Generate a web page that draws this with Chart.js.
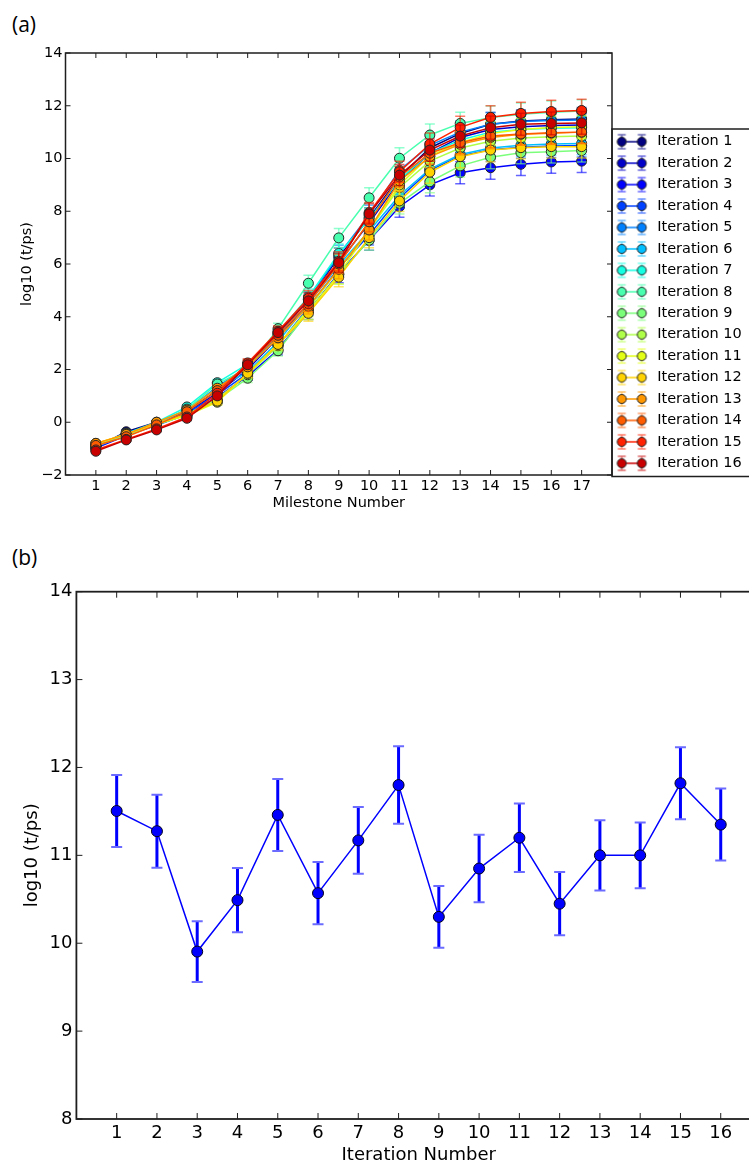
<!DOCTYPE html>
<html><head><meta charset="utf-8">
<script src="https://cdn.jsdelivr.net/npm/chart.js@4/dist/chart.umd.min.js"></script>
<style>
html,body{margin:0;padding:0;background:#fff;width:749px;height:1167px;overflow:hidden;position:relative;}
#wa{position:absolute;left:0;top:0;width:760px;height:520px;}
#wb{position:absolute;left:0;top:530px;width:770px;height:637px;}
.lab{position:absolute;font-family:"Open Sans",sans-serif;font-size:21px;line-height:21px;color:#000;}
</style></head><body>
<div class="lab" style="left:12px;top:14px;">(a)</div>
<div class="lab" style="left:12px;top:547px;">(b)</div>
<div id="wa"><canvas id="ca" width="760" height="520"></canvas></div>
<div id="wb"><canvas id="cb" width="770" height="637"></canvas></div>
<script>
// ---------- DATA ----------
const milestones = [1,2,3,4,5,6,7,8,9,10,11,12,13,14,15,16,17];
const yTicksA = [-2,0,2,4,6,8,10,12,14];
const iter1  = [-0.95,-0.36, 0.00,0.42,1.20,2.10,3.35,4.65,6.25,7.75,9.30,10.40,10.95,11.30,11.42,11.47,11.50];
const iter2  = [-0.92,-0.42,-0.05,0.38,1.10,2.00,3.20,4.50,6.05,7.55,9.15,10.20,10.80,11.10,11.20,11.25,11.27];
const iter3  = [-0.98,-0.50,-0.12,0.30,0.95,1.75,2.75,4.20,5.65,6.90,8.17, 9.00, 9.46, 9.65, 9.78, 9.87, 9.90];
const iter4  = [-0.95,-0.48,-0.10,0.35,1.05,1.85,2.90,4.35,5.85,7.10,8.50, 9.55,10.10,10.33,10.43,10.47,10.49];
const iter5  = [-0.93,-0.45,-0.05,0.45,1.35,2.10,3.30,4.65,6.35,7.85,9.55,10.50,11.00,11.30,11.40,11.44,11.46];
const iter6  = [-0.90,-0.45,-0.05,0.50,1.30,1.90,3.05,4.50,5.95,7.25,8.60, 9.60,10.15,10.40,10.50,10.55,10.57];
const iter7  = [-0.88,-0.42, 0.00,0.58,1.50,2.20,3.40,4.75,6.40,7.70,9.20,10.20,10.70,11.00,11.10,11.15,11.17];
const iter8  = [-0.90,-0.47,-0.05,0.50,1.45,2.05,3.55,5.27,6.99,8.51,10.01,10.89,11.33,11.55,11.68,11.75,11.80];
const iter9  = [-0.90,-0.50,-0.10,0.28,0.85,1.67,2.71,4.20,5.60,6.90,8.30, 9.12, 9.72,10.05,10.22,10.26,10.30];
const iter10 = [-0.85,-0.45,-0.08,0.30,0.90,1.80,2.90,4.30,5.80,7.30,8.90, 9.90,10.40,10.65,10.78,10.82,10.85];
const iter11 = [-0.82,-0.44,-0.06,0.25,0.76,1.86,2.97,4.20,5.60,7.30,9.00,10.10,10.60,10.95,11.10,11.18,11.20];
const iter12 = [-0.80,-0.45,-0.05,0.30,0.80,1.86,2.95,4.13,5.50,7.00,8.39, 9.48,10.07,10.32,10.41,10.45,10.45];
const iter13 = [-0.80,-0.46, 0.00,0.46,1.29,2.10,3.20,4.40,5.80,7.29,9.15,10.07,10.54,10.80,10.92,10.96,11.00];
const iter14 = [-0.88,-0.55,-0.10,0.40,1.20,2.20,3.30,4.50,6.00,7.60,9.30,10.20,10.60,10.85,10.93,10.98,11.00];
const iter15 = [-1.05,-0.65,-0.25,0.20,1.10,2.25,3.45,4.70,6.10,7.95,9.50,10.55,11.18,11.56,11.71,11.78,11.82];
const iter16 = [-1.10,-0.67,-0.29,0.15,1.00,2.18,3.40,4.60,6.05,7.90,9.37,10.32,10.85,11.17,11.30,11.33,11.35];
const milestoneErr = [0.05,0.06,0.07,0.08,0.12,0.16,0.20,0.30,0.36,0.38,0.40,0.42,0.42,0.44,0.42,0.43,0.43];
const seriesA = [iter1,iter2,iter3,iter4,iter5,iter6,iter7,iter8,iter9,iter10,iter11,iter12,iter13,iter14,iter15,iter16];

const iterationNumbers = [1,2,3,4,5,6,7,8,9,10,11,12,13,14,15,16];
const finalLog = [11.505,11.275,9.905,10.49,11.46,10.57,11.17,11.80,10.30,10.85,11.20,10.45,11.00,11.00,11.82,11.35];
const finalErr = [0.41,0.415,0.345,0.365,0.41,0.355,0.38,0.44,0.35,0.385,0.39,0.36,0.40,0.375,0.41,0.41];
const yTicksB = [8,9,10,11,12,13,14];

// ---------- STYLE HELPERS ----------
function interp(xs, ys, t){
  for(let k=0;k<xs.length-1;k++){
    if(t<=xs[k+1]){ const f=(t-xs[k])/(xs[k+1]-xs[k]); return ys[k]+f*(ys[k+1]-ys[k]); }
  }
  return ys[ys.length-1];
}
function jet(t){
  const r=interp([0,0.35,0.66,0.89,1],[0,0,1,1,0.5],t);
  const g=interp([0,0.125,0.375,0.64,0.91,1],[0,0,1,1,0,0],t);
  const b=interp([0,0.11,0.34,0.65,1],[0.5,1,1,0,0],t);
  return [Math.round(r*255),Math.round(g*255),Math.round(b*255)];
}
function col(i,a){ const c=jet(i/16); return a===undefined?`rgb(${c[0]},${c[1]},${c[2]})`:`rgba(${c[0]},${c[1]},${c[2]},${a})`; }

function legendIcon(i){
  const c=document.createElement('canvas'); c.width=40; c.height=20;
  const g=c.getContext('2d');
  const xs=[7.3,27.3], cy=10;
  g.strokeStyle=col(i,0.6); g.lineWidth=1.5;
  xs.forEach(x=>{ g.beginPath(); g.moveTo(x,cy-7); g.lineTo(x,cy+7);
    g.moveTo(x-4,cy-7); g.lineTo(x+4,cy-7); g.moveTo(x-4,cy+7); g.lineTo(x+4,cy+7); g.stroke(); });
  g.strokeStyle=col(i); g.lineWidth=1.5;
  g.beginPath(); g.moveTo(xs[0],cy); g.lineTo(xs[1],cy); g.stroke();
  xs.forEach(x=>{ g.beginPath(); g.arc(x,cy,4.5,0,Math.PI*2); g.fillStyle=col(i); g.fill(); g.strokeStyle='#222'; g.lineWidth=1; g.stroke(); });
  return c;
}

// ---------- PLUGINS ----------
const errorBars = {id:'errorBars',
  beforeDatasetDraw(chart,args){
    const ds=chart.data.datasets[args.index]; if(!ds.errs) return;
    const ys=chart.scales.y, ctx=chart.ctx, ca=chart.chartArea;
    ctx.save();
    ctx.beginPath(); ctx.rect(ca.left,ca.top,ca.right-ca.left,ca.bottom-ca.top); ctx.clip();
    const pts=args.meta.data;
    ctx.strokeStyle=ds.errColor; ctx.lineWidth=ds.errWidth;
    pts.forEach((p,j)=>{ const v=ds.data[j].y, e=ds.errs[j];
      ctx.beginPath(); ctx.moveTo(p.x,ys.getPixelForValue(v+e)); ctx.lineTo(p.x,ys.getPixelForValue(v-e)); ctx.stroke(); });
    ctx.strokeStyle=ds.capColor; ctx.lineWidth=ds.capWidth;
    pts.forEach((p,j)=>{ const v=ds.data[j].y, e=ds.errs[j];
      [v+e,v-e].forEach(w=>{ const y=ys.getPixelForValue(w);
        ctx.beginPath(); ctx.moveTo(p.x-ds.capHalf,y); ctx.lineTo(p.x+ds.capHalf,y); ctx.stroke(); }); });
    ctx.restore();
  }};

function framePlugin(lw, tl){
  return {id:'frame',
    afterDatasetsDraw(chart){
      const ctx=chart.ctx, ca=chart.chartArea, xs=chart.scales.x, ys=chart.scales.y;
      ctx.save(); ctx.strokeStyle='#1e1e1e'; ctx.lineWidth=1;
      xs.ticks.forEach(t=>{ const x=xs.getPixelForValue(t.value);
        ctx.beginPath(); ctx.moveTo(x,ca.bottom); ctx.lineTo(x,ca.bottom-tl); ctx.moveTo(x,ca.top); ctx.lineTo(x,ca.top+tl); ctx.stroke(); });
      ys.ticks.forEach(t=>{ const y=ys.getPixelForValue(t.value);
        ctx.beginPath(); ctx.moveTo(ca.left,y); ctx.lineTo(ca.left+tl,y); ctx.moveTo(ca.right,y); ctx.lineTo(ca.right-tl,y); ctx.stroke(); });
      ctx.lineWidth=lw; ctx.strokeRect(ca.left,ca.top,ca.right-ca.left,ca.bottom-ca.top);
      ctx.restore();
    }};
}

const LEG_W = 148;
const legendFix = {id:'legendFix',
  beforeLayout(chart){ const lg=chart.legend; if(lg && !lg._fx){ const f=lg.fit.bind(lg); lg.fit=function(){ f(); this.width=LEG_W; }; lg._fx=true; } },
  afterLayout(chart){ const lg=chart.legend; if(!lg) return; lg.top=127.5; lg.bottom=478; lg.height=lg.bottom-lg.top; },
  afterDraw(chart){ const ctx=chart.ctx;
    ctx.save(); ctx.strokeStyle='#1e1e1e'; ctx.lineWidth=1.5;
    ctx.strokeRect(chart.chartArea.right, 129, 200, 347.5); ctx.restore(); }
};

// ---------- CHART (a) ----------
const fontA = {family:'"DejaVu Sans", sans-serif', size:14.5};
new Chart(document.getElementById('ca'), {
  type:'line',
  data:{datasets: seriesA.map((vals,i)=>({
    label:'Iteration '+(i+1),
    data: milestones.map((m,j)=>({x:m,y:vals[j]})),
    errs: milestoneErr, errColor: col(i,0.6), errWidth:1.6, capColor: col(i,0.6), capWidth:1.5, capHalf:5,
    borderColor: col(i), backgroundColor: col(i), borderWidth:1.5,
    pointBackgroundColor: col(i), pointBorderColor:'#262626', pointBorderWidth:1,
    pointRadius:5, pointHoverRadius:5, tension:0, fill:false, order:15-i
  }))},
  options:{
    responsive:false, animation:false, events:[], devicePixelRatio:1,
    layout:{padding:{top:53,left:0,right:0,bottom:0}},
    scales:{
      x:{type:'linear', min:0, max:18,
        afterBuildTicks:s=>{ s.ticks=milestones.map(v=>({value:v})); },
        ticks:{autoSkip:false, maxRotation:0, color:'#000', font:fontA, padding:2.3},
        grid:{display:false, drawTicks:false}, border:{display:false},
        title:{display:true, text:'Milestone Number', color:'#000', font:fontA, padding:{top:0,bottom:8.3}},
        afterFit:s=>{ s.height=45; }},
      y:{type:'linear', min:-2, max:14,
        afterBuildTicks:s=>{ s.ticks=yTicksA.map(v=>({value:v})); },
        ticks:{color:'#000', font:fontA, padding:3, callback:v=>String(v).replace('-','\u2212')},
        grid:{display:false, drawTicks:false}, border:{display:false},
        title:{display:true, text:'log10 (t/ps)', color:'#000', font:fontA, padding:{top:19,bottom:0}},
        afterFit:s=>{ s.width=65.5; }}
    },
    plugins:{
      tooltip:{enabled:false},
      legend:{display:true, position:'right', align:'start', fullSize:false,
        labels:{usePointStyle:true, pointStyleWidth:31, padding:6.94, color:'#000', font:fontA,
          generateLabels: chart => chart.data.datasets.map((ds,i)=>({
            text:ds.label, pointStyle:legendIcon(i), fillStyle:col(i), strokeStyle:col(i),
            lineWidth:0, hidden:false, datasetIndex:i, fontColor:'#000'}))}}
    }
  },
  plugins:[errorBars, framePlugin(1.5,5), legendFix]
});

// ---------- CHART (b) ----------
const fontB = {family:'"DejaVu Sans", sans-serif', size:18};
new Chart(document.getElementById('cb'), {
  type:'line',
  data:{datasets:[{
    label:'final',
    data: iterationNumbers.map((n,j)=>({x:n,y:finalLog[j]})),
    errs: finalErr, errColor:'#0000ff', errWidth:3, capColor:'#6b6bff', capWidth:2, capHalf:5.5,
    borderColor:'#0000ff', backgroundColor:'#0000ff', borderWidth:1.5,
    pointBackgroundColor:'#0000ff', pointBorderColor:'#00001a', pointBorderWidth:1,
    pointRadius:5.5, pointHoverRadius:5.5, tension:0, fill:false
  }]},
  options:{
    responsive:false, animation:false, events:[], devicePixelRatio:1,
    layout:{padding:{top:61.7,left:0,right:9,bottom:0}},
    scales:{
      x:{type:'linear', min:0, max:17,
        afterBuildTicks:s=>{ s.ticks=iterationNumbers.map(v=>({value:v})); },
        ticks:{autoSkip:false, maxRotation:0, color:'#000', font:fontB, padding:3.2},
        grid:{display:false, drawTicks:false}, border:{display:false},
        title:{display:true, text:'Iteration Number', color:'#000', font:fontB, padding:{top:0,bottom:1.2}},
        afterFit:s=>{ s.height=48; }},
      y:{type:'linear', min:8, max:14,
        afterBuildTicks:s=>{ s.ticks=yTicksB.map(v=>({value:v})); },
        ticks:{color:'#000', font:fontB, padding:4},
        grid:{display:false, drawTicks:false}, border:{display:false},
        title:{display:true, text:'log10 (t/ps)', color:'#000', font:fontB, padding:{top:21.2,bottom:0}},
        afterFit:s=>{ s.width=76.4; }}
    },
    plugins:{tooltip:{enabled:false}, legend:{display:false}}
  },
  plugins:[errorBars, framePlugin(1.8,6)]
});
</script>
</body></html>
